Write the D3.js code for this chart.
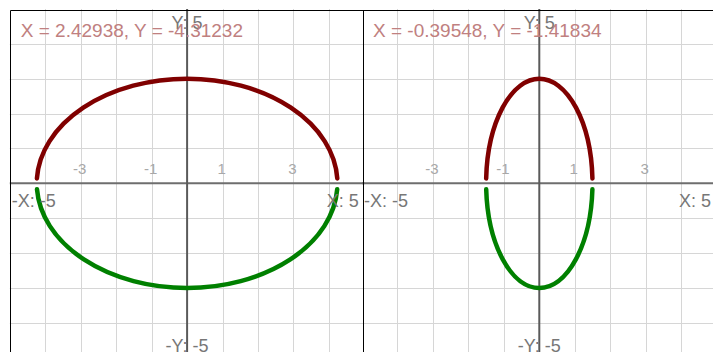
<!DOCTYPE html>
<html>
<head>
<meta charset="utf-8">
<script src="https://cdn.jsdelivr.net/npm/d3@7"></script>
<style>
	body { margin: 0; background: #fff; overflow: hidden; }
	svg { display: block; font-family: Arial, "Liberation Sans", sans-serif; }
</style>
</head>
<body>
<div id="chart"></div>
<script>
// Values
var readouts = ["X = 2.42938, Y = -4.31232", "X = -0.39548, Y = -1.41834"];
var radiusX = [4.24, 1.5];
var radiusY = [3, 3];
var upperEndY = [0.14, 0.14];   // where the red half stops above the x axis
var lowerEndY = [-0.17, -0.17]; // where the green half starts below it
var axisDomain = [-5, 5];
var gridValues = [-4, -3, -2, -1, 0, 1, 2, 3, 4];
var tickValues = [-3, -1, 1, 3];
var axisLabels = { left: "-X: -5", right: "X: 5", top: "Y: 5", bottom: "-Y: -5" };

var defaults = {
	width: 354.6,
	height: 348.7,
	top: 9,
};

function Panel(index, left, frameX){
	this.index = index;
	this.left = left;
	this.frameX = frameX;
	this.x = d3.scaleLinear().domain(axisDomain).range([left, left + defaults.width]);
	this.y = d3.scaleLinear().domain(axisDomain).range([defaults.top + defaults.height, defaults.top]);
}

// half of the ellipse as an svg arc, between the two points at height y0
Panel.prototype.halfEllipse = function(a, b, y0, upper){
	var x = this.x, y = this.y;
	var x0 = a * Math.sqrt(1 - (y0 / b) * (y0 / b));
	var rx = x(a) - x(0);
	var ry = y(0) - y(b);
	return "M" + x(-x0) + "," + y(y0) +
		"A" + rx + "," + ry + " 0 0 " + (upper ? 1 : 0) + " " + x(x0) + "," + y(y0);
};

Panel.prototype.draw = function(svg){
	var x = this.x, y = this.y;
	var i = this.index;
	var g = svg.append("g").attr("class", "panel");

	// Grid
	g.selectAll("line.vgrid")
		.data(gridValues.filter(function(d){ return d !== 0; }))
		.enter().append("line")
		.attr("x1", function(d){ return Math.round(x(d)) + 0.5; })
		.attr("x2", function(d){ return Math.round(x(d)) + 0.5; })
		.attr("y1", y(5)).attr("y2", y(-5))
		.attr("stroke", "#d6d6d6");
	g.selectAll("line.hgrid")
		.data(gridValues.filter(function(d){ return d !== 0; }))
		.enter().append("line")
		.attr("y1", function(d){ return Math.round(y(d)) + 0.5; })
		.attr("y2", function(d){ return Math.round(y(d)) + 0.5; })
		.attr("x1", x(-5)).attr("x2", x(5))
		.attr("stroke", "#d6d6d6");

	// Axes
	g.append("line")
		.attr("x1", x(-5)).attr("x2", x(5))
		.attr("y1", y(0)).attr("y2", y(0))
		.attr("stroke", "#6e6e6e").attr("stroke-width", 2);
	g.append("line")
		.attr("x1", x(0)).attr("x2", x(0))
		.attr("y1", y(5)).attr("y2", y(-5))
		.attr("stroke", "#5a5a5a").attr("stroke-width", 2);

	// Tick labels
	g.selectAll("text.tick")
		.data(tickValues)
		.enter().append("text")
		.attr("class", "tick")
		.attr("x", function(d){ return x(d) - 1; })
		.attr("y", y(0) - 9)
		.attr("text-anchor", "middle")
		.attr("font-size", "15px")
		.attr("fill", "#a8a8a8")
		.text(function(d){ return d; });

	// Ellipse halves
	g.append("path")
		.attr("d", this.halfEllipse(radiusX[i], radiusY[i], upperEndY[i], true))
		.attr("fill", "none")
		.attr("stroke", "#800000")
		.attr("stroke-width", 4.5)
		.attr("stroke-linecap", "round");
	g.append("path")
		.attr("d", this.halfEllipse(radiusX[i], radiusY[i], lowerEndY[i], false))
		.attr("fill", "none")
		.attr("stroke", "#008000")
		.attr("stroke-width", 4.5)
		.attr("stroke-linecap", "round");

	// Axis end labels
	var labelStyle = function(t){
		return t.attr("font-size", "18px").attr("fill", "#777777");
	};
	g.append("text").call(labelStyle)
		.attr("x", x(0)).attr("y", 29)
		.attr("text-anchor", "middle")
		.text(axisLabels.top);
	g.append("text").call(labelStyle)
		.attr("x", x(0)).attr("y", 352)
		.attr("text-anchor", "middle")
		.text(axisLabels.bottom);
	g.append("text").call(labelStyle)
		.attr("x", x(-5) + 2).attr("y", y(0) + 24)
		.attr("text-anchor", "start")
		.text(axisLabels.left);
	g.append("text").call(labelStyle)
		.attr("x", x(-5) + 349).attr("y", y(0) + 24)
		.attr("text-anchor", "end")
		.text(axisLabels.right);

	// Readout
	g.append("text")
		.attr("x", x(-5) + 11).attr("y", 37.3)
		.attr("font-size", "19px")
		.attr("fill", "#c08080")
		.text(readouts[i]);

	// Frame
	var bx = this.frameX + 0.5;
	g.append("path")
		.attr("d", "M" + bx + ",400V10.5H" + (bx + 360))
		.attr("fill", "none")
		.attr("stroke", "#000")
		.attr("stroke-width", 1);
};

var svg = d3.select("#chart").append("svg")
	.attr("width", 713)
	.attr("height", 352);

[[9.8, 10], [362, 363]].forEach(function(p, i){
	new Panel(i, p[0], p[1]).draw(svg);
});
</script>
</body>
</html>
